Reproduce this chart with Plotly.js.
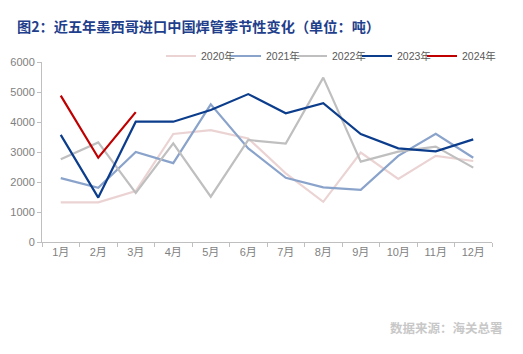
<!DOCTYPE html>
<html>
<head>
<meta charset="utf-8">
<script src="https://cdn.plot.ly/plotly-3.0.1.min.js"></script>
<style>
html,body{margin:0;padding:0;background:#fff;}
#chart{width:523px;height:354px;}
</style>
</head>
<body>
<div id="chart"></div>
<script>
const months = ["1月","2月","3月","4月","5月","6月","7月","8月","9月","10月","11月","12月"];
const seriesNames = ["2020年","2021年","2022年","2023年","2024年"];
const y2020 = [1320, 1320, 1700, 3600, 3730, 3450, 2290, 1340, 2980, 2100, 2870, 2700];
const y2021 = [2130, 1810, 3000, 2630, 4590, 3120, 2140, 1820, 1740, 2870, 3610, 2810];
const y2022 = [2760, 3320, 1640, 3290, 1510, 3400, 3280, 5480, 2680, 3010, 3180, 2480];
const y2023 = [3570, 1480, 4010, 4010, 4400, 4930, 4290, 4630, 3600, 3120, 3020, 3420];
const y2024 = [4880, 2810, 4330];
const colors = ["#ebd3d3", "#8aa3cb", "#bfbfbf", "#0b3d8c", "#c00000"];
const yTicks = [0, 1000, 2000, 3000, 4000, 5000, 6000];

const allData = [y2020, y2021, y2022, y2023, y2024];
const legendIds = ["legend", "legend2", "legend3", "legend4", "legend5"];
const traces = allData.map((vals, i) => ({
  type: "scatter",
  mode: "lines",
  name: seriesNames[i],
  x: months.slice(0, vals.length),
  y: vals,
  line: {color: colors[i], width: 2.2},
  legend: legendIds[i],
  hoverinfo: "skip"
}));

const font = "Liberation Sans, Arial, Noto Sans CJK SC, sans-serif";
const legendFont = {family: font, size: 10.5, color: "#595959"};
const legendLeftPx = [161, 226, 292, 357, 422];

const layout = {
  width: 523,
  height: 354,
  margin: {l: 42, r: 31, t: 62, b: 112},
  paper_bgcolor: "#ffffff",
  plot_bgcolor: "#ffffff",
  font: {family: font, size: 11, color: "#7f7f7f"},
  title: {
    text: "<b>图2：近五年墨西哥进口中国焊管季节性变化（单位：吨）</b>",
    font: {family: "Noto Sans CJK SC, sans-serif", size: 14.2, color: "#1f3f8c"},
    x: 17/523, xanchor: "left", xref: "container",
    y: (354-27)/354, yanchor: "middle", yref: "container"
  },
  showlegend: true,
  xaxis: {
    type: "category",
    categoryorder: "array",
    categoryarray: months,
    range: [-0.5, 11.5],
    showline: true,
    linecolor: "#bfbfbf",
    linewidth: 1,
    ticks: "outside",
    tickson: "boundaries",
    ticklen: 4,
    tickcolor: "#bfbfbf",
    showgrid: false,
    zeroline: false,
    tickfont: {family: font, size: 11, color: "#7f7f7f"},
    fixedrange: true
  },
  yaxis: {
    range: [0, 6000],
    tickvals: yTicks,
    ticktext: yTicks.map(String),
    showline: true,
    linecolor: "#bfbfbf",
    linewidth: 1,
    ticks: "outside",
    ticklen: 4,
    tickcolor: "#bfbfbf",
    showgrid: false,
    zeroline: false,
    tickfont: {family: font, size: 11, color: "#7f7f7f"},
    fixedrange: true
  },
  annotations: [{
    text: "<b>数据来源：海关总署</b>",
    xref: "paper", yref: "paper",
    x: (505-42)/450, xanchor: "right",
    y: (242-327)/180, yanchor: "middle",
    showarrow: false,
    font: {family: "Noto Sans CJK SC, sans-serif", size: 12.5, color: "#c8c8c8"}
  }]
};

legendIds.forEach((id, i) => {
  layout[id] = {
    orientation: "h",
    x: (legendLeftPx[i] - 42) / 450, xanchor: "left",
    y: 1 + 6/180, yanchor: "middle",
    font: legendFont,
    bgcolor: "rgba(0,0,0,0)",
    itemwidth: 30
  };
});

Plotly.newPlot("chart", traces, layout, {displayModeBar: false, staticPlot: true});
</script>
</body>
</html>
